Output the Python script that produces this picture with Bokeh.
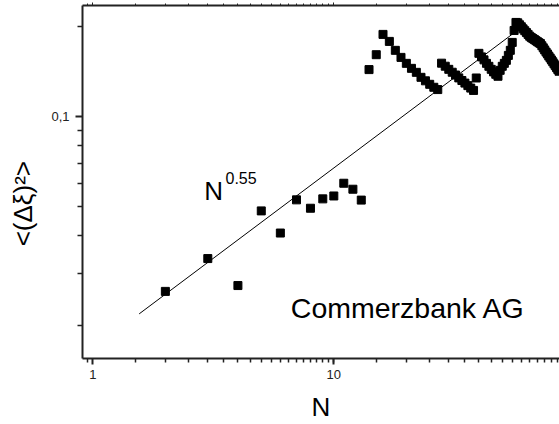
import math
from bokeh.plotting import figure
from bokeh.models import FixedTicker, LogAxis, Label, Range1d
from bokeh.embed import file_html
from bokeh.resources import INLINE

# ---- data ----
lag_n = list(range(2, 87))
msd = [0.0261, 0.0336, 0.0273, 0.0485, 0.0409, 0.0528, 0.0495, 0.0532, 0.0544,
       0.0600, 0.0573, 0.0527, 0.1439, 0.1614, 0.1887, 0.1788, 0.1669, 0.1581,
       0.1510, 0.1453, 0.1409, 0.1356, 0.1320, 0.1285, 0.1256, 0.1234, 0.1512,
       0.1477, 0.1442, 0.1410, 0.1380, 0.1350, 0.1323, 0.1297, 0.1272, 0.1248,
       0.1226, 0.1349, 0.1631, 0.1587, 0.1551, 0.1510, 0.1476, 0.1442, 0.1414,
       0.1388, 0.1367, 0.1431, 0.1476, 0.1510, 0.1545, 0.1605, 0.1669, 0.1774,
       0.1945, 0.2069, 0.2062, 0.2031, 0.2001, 0.1969, 0.1941, 0.1914, 0.1887,
       0.1861, 0.1841, 0.1827, 0.1813, 0.1798, 0.1784, 0.1770, 0.1758, 0.1729,
       0.1701, 0.1674, 0.1647, 0.1623, 0.1597, 0.1574, 0.1550, 0.1528, 0.1504,
       0.1483, 0.1461, 0.1441, 0.1421]

fit_n = [1.557, 57.7]
fit_msd = [0.02195, 0.1945]

x_major = [1, 10]
x_minor = [0.95] + [1 + 0.5 * k for k in range(1, 19)] + [10 + 5 * k for k in range(1, 19)]
y_major = [0.1]
y_minor = [0.02, 0.03, 0.04, 0.05, 0.06, 0.07, 0.08, 0.09, 0.2]
x_labels = {1: "1", 10: "10"}
y_labels = {0.1: "0,1"}

FONT = "Liberation Sans"
INK = "#222222"

p = figure(width=559, height=424, x_axis_type="log", y_axis_type="log",
           x_range=Range1d(0.906, 86.4), y_range=Range1d(0.01557, 0.2357),
           output_backend="svg", toolbar_location=None,
           min_border_left=82, min_border_right=0, min_border_top=5,
           min_border_bottom=65)
p.outline_line_color = None
p.xgrid.visible = False
p.ygrid.visible = False
p.background_fill_color = "white"
p.border_fill_color = "white"

xa = p.xaxis[0]
xa.ticker = FixedTicker(ticks=x_major, minor_ticks=x_minor)
xa.major_label_overrides = x_labels
ya = p.yaxis[0]
ya.ticker = FixedTicker(ticks=y_major, minor_ticks=y_minor)
ya.major_label_overrides = y_labels

for ax in (xa, ya):
    ax.axis_line_width = 2
    ax.axis_line_color = INK
    ax.major_tick_line_color = INK
    ax.minor_tick_line_color = INK
    ax.major_tick_line_width = 2
    ax.minor_tick_line_width = 1.5
    ax.major_tick_in = 0
    ax.minor_tick_in = 0
    ax.major_label_text_font = FONT
    ax.major_label_text_font_size = "13px"
    ax.major_label_text_color = INK
    ax.major_label_standoff = 6
    ax.axis_label_text_font = FONT
    ax.axis_label_text_font_size = "26px"
    ax.axis_label_text_font_style = "normal"
    ax.axis_label_text_color = "black"

xa.major_tick_out = 6
xa.minor_tick_out = 4
ya.major_tick_out = 7
ya.minor_tick_out = 5

xa.axis_label = "N"
xa.axis_label_standoff = 10
xa.major_label_standoff = 5

# trailing no-break spaces move the visible label a little below the frame centre
ya.axis_label = "<(Δξ)²>" + "\u00a0" * 6
ya.axis_label_standoff = 10

top = LogAxis(ticker=FixedTicker(ticks=x_major, minor_ticks=x_minor))
top.axis_line_width = 2
top.axis_line_color = INK
top.major_tick_line_color = INK
top.minor_tick_line_color = INK
top.major_tick_in = 0
top.minor_tick_in = 0
top.major_tick_out = 3
top.minor_tick_out = 2
top.major_label_text_color = "white"
top.major_label_text_alpha = 0
top.major_label_text_font_size = "1px"
top.major_label_standoff = 0
p.add_layout(top, "above")

p.line(fit_n, fit_msd, line_color="black", line_width=1)
p.scatter(lag_n, msd, marker="square", size=8, fill_color="black", line_color="black")

p.add_layout(Label(x=2.899, y=0.05653, text="N", text_font=FONT,
                   text_font_size="26px", text_baseline="alphabetic",
                   text_color="black"))
p.add_layout(Label(x=3.553, y=0.06232, text="0.55", text_font=FONT,
                   text_font_size="16px", text_baseline="alphabetic",
                   text_color="black"))
p.add_layout(Label(x=6.63, y=0.02298, text="Commerzbank AG", text_font=FONT,
                   text_font_size="28.5px", text_baseline="alphabetic",
                   text_color="black"))

open("out.html", "w").write(file_html(p, INLINE))
